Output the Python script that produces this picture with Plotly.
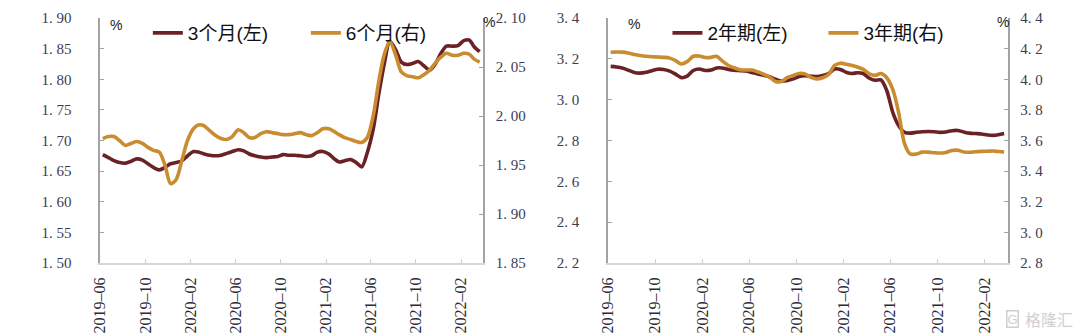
import plotly.graph_objects as go

# ---------- data (semi-monthly readings, dates ~8th and ~23rd of each month) ----------
months = [(2019, m) for m in range(6, 13)] + [(2020, m) for m in range(1, 13)] + \
         [(2021, m) for m in range(1, 13)] + [(2022, m) for m in range(1, 4)]
dates = [f"{y}-{mo:02d}-{d}" for (y, mo) in months for d in ("08", "23")]

rate_3m = [1.677, 1.672, 1.667, 1.664, 1.663, 1.666, 1.670, 1.668, 1.662, 1.656,
           1.652, 1.656, 1.662, 1.664, 1.667, 1.675, 1.682, 1.681, 1.678, 1.676,
           1.675, 1.676, 1.679, 1.682, 1.685, 1.683, 1.678, 1.675, 1.673, 1.672,
           1.673, 1.674, 1.677, 1.676, 1.676, 1.675, 1.674, 1.675, 1.681, 1.682,
           1.678, 1.670, 1.665, 1.667, 1.669, 1.664, 1.657, 1.680, 1.718, 1.775,
           1.825, 1.862, 1.848, 1.828, 1.824, 1.826, 1.829, 1.822, 1.815, 1.825,
           1.842, 1.854, 1.854, 1.855, 1.863, 1.864, 1.853, 1.845]

rate_6m = [1.977, 1.979, 1.979, 1.975, 1.970, 1.972, 1.974, 1.972, 1.968, 1.965,
           1.963, 1.950, 1.931, 1.935, 1.955, 1.975, 1.987, 1.991, 1.990, 1.985,
           1.980, 1.977, 1.976, 1.979, 1.986, 1.983, 1.978, 1.978, 1.982, 1.984,
           1.983, 1.982, 1.981, 1.981, 1.982, 1.983, 1.981, 1.980, 1.983, 1.987,
           1.987, 1.984, 1.981, 1.978, 1.976, 1.974, 1.973, 1.978, 2.000, 2.035,
           2.063, 2.076, 2.062, 2.045, 2.041, 2.040, 2.039, 2.042, 2.047, 2.054,
           2.060, 2.064, 2.062, 2.062, 2.064, 2.063, 2.058, 2.055]

rate_2y = [3.163, 3.160, 3.155, 3.145, 3.133, 3.130, 3.134, 3.142, 3.149, 3.148,
           3.140, 3.125, 3.108, 3.115, 3.143, 3.150, 3.143, 3.145, 3.155, 3.155,
           3.148, 3.144, 3.142, 3.140, 3.133, 3.126, 3.120, 3.112, 3.100, 3.091,
           3.094, 3.102, 3.113, 3.117, 3.115, 3.113, 3.118, 3.128, 3.150, 3.148,
           3.133, 3.128, 3.132, 3.128, 3.105, 3.095, 3.097, 3.045, 2.935, 2.872,
           2.840, 2.836, 2.840, 2.843, 2.844, 2.843, 2.840, 2.842, 2.848, 2.849,
           2.842, 2.836, 2.834, 2.832, 2.827, 2.825, 2.828, 2.834]

rate_3y = [4.176, 4.178, 4.177, 4.172, 4.162, 4.155, 4.150, 4.147, 4.145, 4.143,
           4.138, 4.122, 4.100, 4.115, 4.150, 4.152, 4.142, 4.143, 4.150, 4.120,
           4.090, 4.075, 4.062, 4.060, 4.060, 4.048, 4.033, 4.015, 3.985, 3.985,
           4.012, 4.025, 4.037, 4.035, 4.012, 4.002, 4.010, 4.030, 4.090, 4.105,
           4.098, 4.090, 4.080, 4.065, 4.035, 4.025, 4.037, 4.010, 3.930, 3.780,
           3.580, 3.512, 3.512, 3.524, 3.524, 3.520, 3.518, 3.522, 3.535, 3.536,
           3.525, 3.523, 3.527, 3.529, 3.530, 3.531, 3.528, 3.525]

x_tick_vals = ["2019-06-01", "2019-10-01", "2020-02-01", "2020-06-01", "2020-10-01",
               "2021-02-01", "2021-06-01", "2021-10-01", "2022-02-01"]
x_tick_text = ["2019–06", "2019–10", "2020–02", "2020–06", "2020–10",
               "2021–02", "2021–06", "2021–10", "2022–02"]
x_range = ["2019-06-01", "2022-04-01"]

NB = "\u00a0"
y1_vals = [1.50, 1.55, 1.60, 1.65, 1.70, 1.75, 1.80, 1.85, 1.90]
y1_text = ["1.50", "1.55", "1.60", "1.65", "1.70", "1.75", "1.80", "1.85", "1.90"]
y2_vals = [1.85, 1.90, 1.95, 2.00, 2.05, 2.10]
y2_text = ["1.85", "1.90", "1.95", "2.00", "2.05", "2.10"]
y3_vals = [2.2, 2.4, 2.6, 2.8, 3.0, 3.2, 3.4]
y3_text = ["2.2", "2.4", "2.6", "2.8", "3.0", "3.2", "3.4"]
y4_vals = [2.8, 3.0, 3.2, 3.4, 3.6, 3.8, 4.0, 4.2, 4.4]
y4_text = ["2.8", "3.0", "3.2", "3.4", "3.6", "3.8", "4.0", "4.2", "4.4"]

def spaced(labels):
    return [t.replace(".", "." + NB) for t in labels]

MAROON = "#6b2226"
GOLD = "#c98c2e"
W, H = 1080, 336
T, B = 18, 73
PH = H - T - B

def py(ypx):
    return 1 - (ypx - T) / PH

fig = go.Figure()
line_kw = dict(mode="lines", line_shape="spline", hoverinfo="skip")
fig.add_trace(go.Scatter(x=dates, y=rate_3m, name="3个月(左)", xaxis="x", yaxis="y",
                         line=dict(color=MAROON, width=3.6, smoothing=0.8), legend="legend", **line_kw))
fig.add_trace(go.Scatter(x=dates, y=rate_6m, name="6个月(右)", xaxis="x", yaxis="y2",
                         line=dict(color=GOLD, width=3.6, smoothing=0.8), legend="legend", **line_kw))
fig.add_trace(go.Scatter(x=dates, y=rate_2y, name="2年期(左)", xaxis="x2", yaxis="y3",
                         line=dict(color=MAROON, width=3.6, smoothing=0.8), legend="legend2", **line_kw))
fig.add_trace(go.Scatter(x=dates, y=rate_3y, name="3年期(右)", xaxis="x2", yaxis="y4",
                         line=dict(color=GOLD, width=3.6, smoothing=0.8), legend="legend2", **line_kw))

tick_font = dict(family="Liberation Serif, DejaVu Serif, serif", size=15, color="#3c3c50")
xfont = dict(family="Liberation Serif, DejaVu Serif, serif", size=16, color="#2a2a35")

def xaxis(domain):
    return dict(domain=domain, type="date", range=x_range, tickmode="array",
                tickvals=x_tick_vals, ticktext=x_tick_text, tickangle=-90,
                showgrid=False, zeroline=False, showline=True, linecolor="#d6d6d6",
                linewidth=2, ticks="inside", ticklen=4, tickcolor="#d0d0d0",
                tickfont=xfont, ticklabelstandoff=6, fixedrange=True)

def yaxis(vals, text, rng, side, anchor, standoff, overlaying=None):
    d = dict(range=rng, tickmode="array", tickvals=vals, ticktext=spaced(text), side=side,
             anchor=anchor, showgrid=False, zeroline=False, showline=True,
             linecolor="#a3a3a3", linewidth=1.5, ticks="inside", ticklen=4,
             tickcolor="#a3a3a3", tickfont=tick_font, fixedrange=True,
             ticklabelstandoff=standoff)
    if overlaying:
        d["overlaying"] = overlaying
    return d

d1 = [92 / W, 478 / W]
d2 = [604 / W, 1007 / W]
leg_font = dict(family="Liberation Sans, Noto Sans CJK SC, sans-serif", size=19, color="#111")

fig.update_layout(
    width=W, height=H,
    margin=dict(l=0, r=0, t=T, b=B),
    paper_bgcolor="white", plot_bgcolor="white",
    xaxis=xaxis(d1),
    xaxis2=xaxis(d2),
    yaxis=yaxis(y1_vals, y1_text, [1.50, 1.90], "left", "x", 24),
    yaxis2=yaxis(y2_vals, y2_text, [1.85, 2.10], "right", "x", 8, "y"),
    yaxis3=yaxis(y3_vals, y3_text, [2.2, 3.4], "left", "x2", 24),
    yaxis4=yaxis(y4_vals, y4_text, [2.8, 4.4], "right", "x2", 8, "y3"),
    legend=dict(orientation="h", x=140 / W, xanchor="left", y=py(14), yanchor="top",
                bgcolor="rgba(0,0,0,0)", entrywidth=113, entrywidthmode="pixels",
                font=leg_font, itemclick=False, itemdoubleclick=False),
    legend2=dict(orientation="h", x=664 / W, xanchor="left", y=py(14), yanchor="top",
                 bgcolor="rgba(0,0,0,0)", entrywidth=111, entrywidthmode="pixels",
                 font=leg_font, itemclick=False, itemdoubleclick=False),
    showlegend=True,
)

pct_font = dict(family="Liberation Sans, sans-serif", size=14, color="#222")
for xp, yp in [(108, 25), (484, 22), (630, 24), (1002, 22)]:
    fig.add_annotation(x=xp / W, y=py(yp), xref="paper", yref="paper", text="%",
                       showarrow=False, font=pct_font, xanchor="center", yanchor="middle")

# watermark
fig.add_annotation(x=1075 / W, y=py(319), xref="paper", yref="paper",
                   text="格隆汇", showarrow=False, xanchor="right", yanchor="middle",
                   font=dict(family="Noto Sans CJK SC", size=16, color="#cfcfcf"))
fig.add_annotation(x=1012 / W, y=py(319), xref="paper", yref="paper",
                   text="G", showarrow=False, xanchor="center", yanchor="middle",
                   bordercolor="#cfcfcf", borderwidth=1.5, borderpad=0,
                   font=dict(family="Liberation Sans", size=13, color="#cfcfcf"))

fig.write_html("out.html")
